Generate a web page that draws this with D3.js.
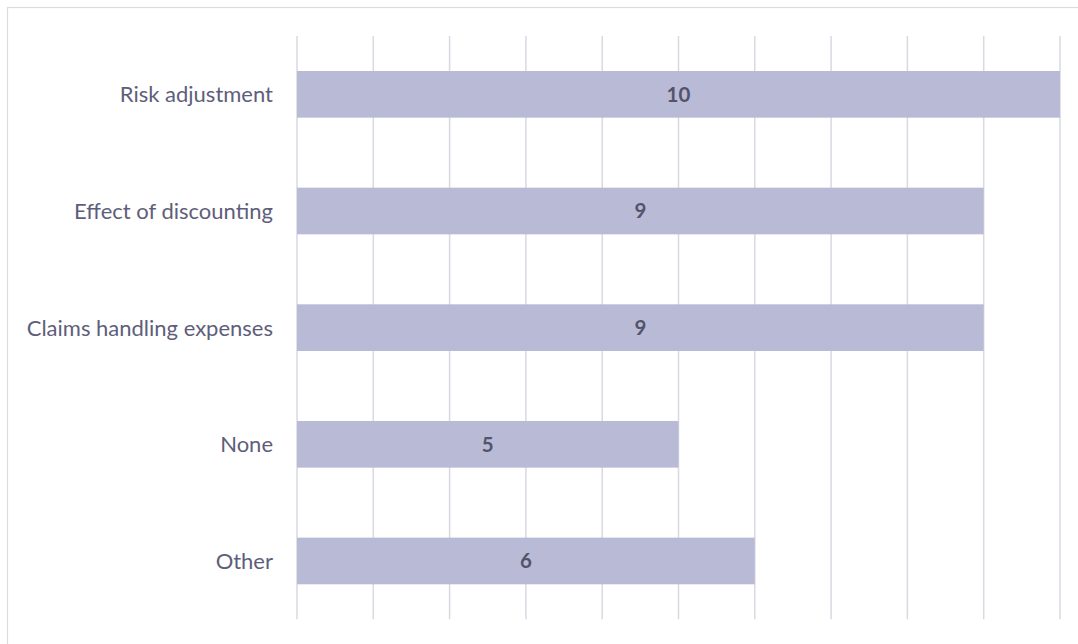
<!DOCTYPE html>
<html>
<head>
<meta charset="utf-8">
<script src="https://cdn.jsdelivr.net/npm/d3@7"></script>
<style>
  html, body { margin: 0; padding: 0; background: #fff; }
  svg { display: block; }
</style>
</head>
<body>
<svg id="chart" width="1078" height="644"></svg>
<script>
const categories = ["Risk adjustment", "Effect of discounting", "Claims handling expenses", "None", "Other"];
const values = [10, 9, 9, 5, 6];
const xTicks = [0, 1, 2, 3, 4, 5, 6, 7, 8, 9, 10];

const W = 1078, H = 644;
const margin = { left: 297, right: 18, top: 36, bottom: 24.7 };
const svg = d3.select("#chart");

svg.append("rect")
  .attr("x", 7.5).attr("y", 7.5)
  .attr("width", W).attr("height", H)
  .attr("fill", "none").attr("stroke", "#dcdce3").attr("stroke-width", 1.2);

const x = d3.scaleLinear().domain([0, 10]).range([margin.left, W - margin.right]);
const y = d3.scaleBand().domain(categories)
  .range([margin.top, H - margin.bottom])
  .paddingInner(0.6).paddingOuter(0.3);

// gridlines
svg.append("g").selectAll("line").data(xTicks).join("line")
  .attr("x1", d => x(d)).attr("x2", d => x(d))
  .attr("y1", margin.top).attr("y2", H - margin.bottom)
  .attr("stroke", "#d9d9e2").attr("stroke-width", 1.5);

// bars
svg.append("g").selectAll("rect").data(categories).join("rect")
  .attr("x", x(0))
  .attr("y", d => y(d))
  .attr("width", (d, i) => x(values[i]) - x(0))
  .attr("height", y.bandwidth())
  .attr("fill", "#b9bad6");

// value labels
svg.append("g").selectAll("text").data(categories).join("text")
  .attr("x", (d, i) => (x(0) + x(values[i])) / 2)
  .attr("y", d => y(d) + y.bandwidth() / 2)
  .attr("dy", "0.36em")
  .attr("text-anchor", "middle")
  .attr("font-family", "Lato, sans-serif")
  .attr("font-size", 20.5)
  .attr("font-weight", "bold")
  .attr("fill", "#53536b")
  .text((d, i) => values[i]);

// category labels
const yAxis = d3.axisLeft(y).tickSize(0).tickPadding(24);
const gy = svg.append("g").attr("transform", `translate(${x(0)},0)`).call(yAxis);
gy.select(".domain").remove();
gy.selectAll("text")
  .attr("font-family", "Lato, sans-serif")
  .attr("font-size", 22)
  .attr("dy", "0.36em")
  .attr("fill", "#5e5e7a");
</script>
</body>
</html>
